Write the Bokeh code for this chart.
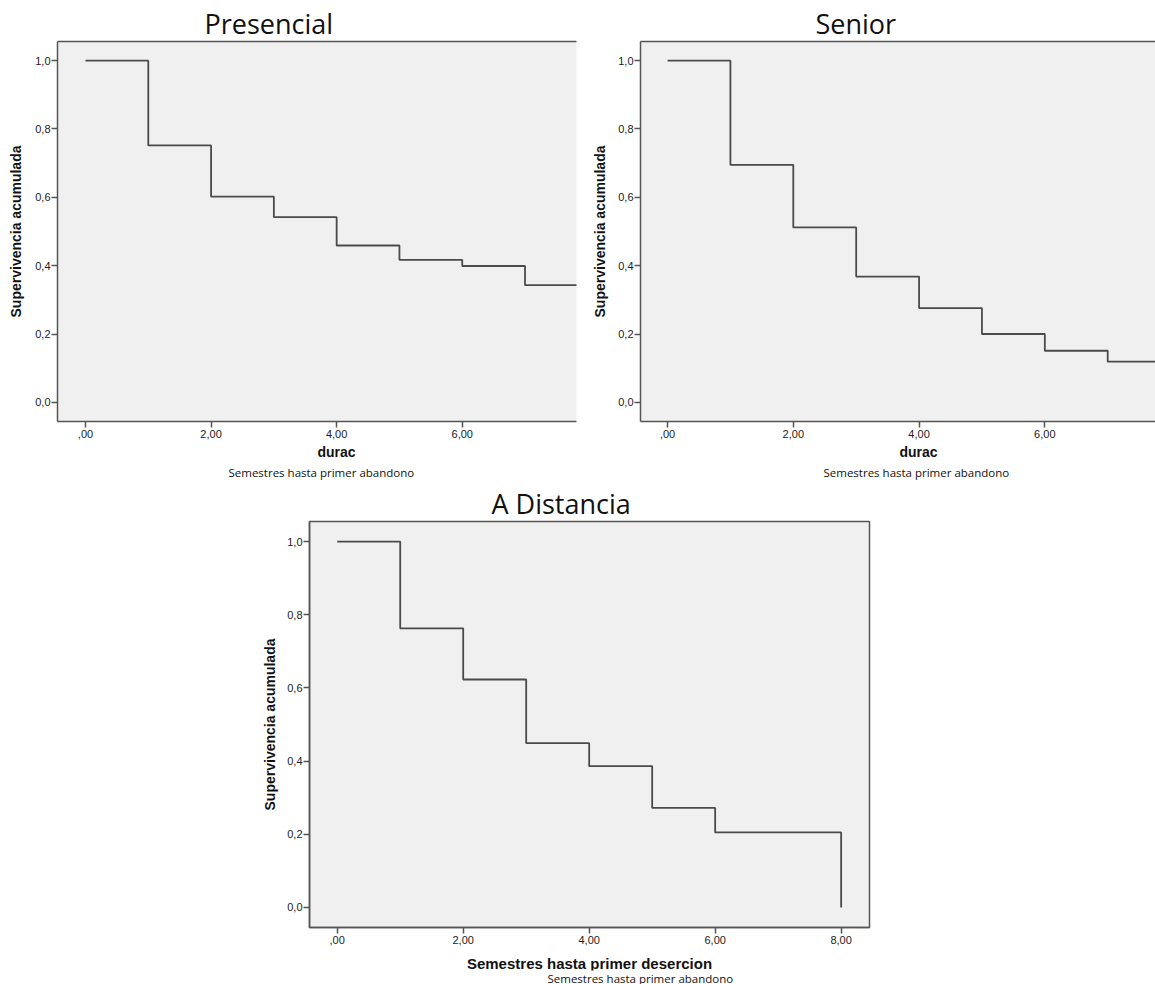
from bokeh.plotting import figure
from bokeh.models import (LinearAxis, FixedTicker, Title, Range1d, Spacer)
from bokeh.layouts import column, row
from bokeh.embed import file_html
from bokeh.resources import INLINE

# ---- data ----
durations = [0, 1, 2, 3, 4, 5, 6, 7, 8]
presencial_surv = [1.0, 0.752, 0.602, 0.542, 0.459, 0.417, 0.399, 0.343, 0.343]
senior_surv = [1.0, 0.695, 0.512, 0.368, 0.276, 0.200, 0.151, 0.119, 0.119]
distancia_surv = [1.0, 0.763, 0.623, 0.449, 0.386, 0.272, 0.205, 0.205, 0.0]

x_ticks = [0, 2, 4, 6, 8]
x_tick_labels = [",00", "2,00", "4,00", "6,00", "8,00"]
y_ticks = [0.0, 0.2, 0.4, 0.6, 0.8, 1.0]
y_tick_labels = ["0,0", "0,2", "0,4", "0,6", "0,8", "1,0"]

titles = ["Presencial", "Senior", "A Distancia"]
y_label = "Supervivencia acumulada"
x_label_top = "durac"
x_label_bottom = "Semestres hasta primer desercion"
subtitle = "Semestres hasta primer abandono"

LINE = "#4a4a4a"
AX = "#555555"
BG = "#f0f0f0"


def style(p, y_standoff):
    p.background_fill_color = BG
    p.border_fill_color = "white"
    p.xgrid.visible = False
    p.ygrid.visible = False
    p.outline_line_color = None
    for ax in (p.xaxis[0], p.yaxis[0]):
        ax.axis_line_color = AX
        ax.axis_line_width = 1.5
        ax.major_tick_line_color = AX
        ax.major_tick_line_width = 1.5
        ax.major_tick_out = 6
        ax.major_tick_in = 0
        ax.minor_tick_line_color = None
        ax.major_label_text_font = "Liberation Sans"
        ax.major_label_text_font_size = "11px"
        ax.major_label_text_color = "#222222"
        ax.axis_label_text_font = "Liberation Sans"
        ax.axis_label_text_font_style = "bold"
        ax.axis_label_text_color = "#111111"
    p.xaxis[0].ticker = FixedTicker(ticks=x_ticks)
    p.xaxis[0].major_label_overrides = dict(zip(x_ticks, x_tick_labels))
    p.xaxis[0].major_label_standoff = 2
    p.yaxis[0].ticker = FixedTicker(ticks=y_ticks)
    p.yaxis[0].major_label_overrides = dict(zip(y_ticks, y_tick_labels))
    p.yaxis[0].major_label_standoff = 1
    p.yaxis[0].axis_label = y_label
    p.yaxis[0].axis_label_text_font_size = "14px"
    p.yaxis[0].axis_label_standoff = y_standoff


def main_title(p, offset):
    p.title.text_font = "Open Sans"
    p.title.text_font_size = "27px"
    p.title.text_font_style = "normal"
    p.title.text_color = "#111111"
    p.title.align = "left"
    p.title.offset = offset
    p.title.standoff = 0


def top_border(p):
    ax = LinearAxis(ticker=FixedTicker(ticks=[]), axis_line_color=AX,
                    axis_line_width=1.5, major_tick_line_color=None,
                    minor_tick_line_color=None,
                    major_label_text_font_size="0px")
    p.add_layout(ax, "above")


def below_text(p, text, offset, size, font="Open Sans", bold=False,
               standoff=0, bg=None):
    t = Title(text=text, align="left", offset=offset, text_font=font,
              text_font_size=size, text_color="#111111",
              text_font_style="bold" if bold else "normal", standoff=standoff)
    if bg is not None:
        t.background_fill_color = bg
    p.add_layout(t, "below")


# ---- top-left: Presencial ----
p1 = figure(width=578, height=482, frame_width=519, frame_height=380,
            x_range=Range1d(-0.446, 7.82), y_range=Range1d(-0.056, 1.056),
            min_border_left=57, min_border_right=2, min_border_top=41,
            min_border_bottom=61, toolbar_location=None, output_backend="svg",
            title=titles[0])
p1.step(durations, presencial_surv, mode="after", line_color=LINE, line_width=1.8)
style(p1, 8)
main_title(p1, 147)
top_border(p1)
below_text(p1, x_label_top, 260, "14px", font="Liberation Sans", bold=True, standoff=2)
below_text(p1, subtitle, 171, "11.5px", standoff=5)

# ---- top-right: Senior ----
p2 = figure(width=577, height=482, frame_width=515, frame_height=380,
            x_range=Range1d(-0.43, 7.76), y_range=Range1d(-0.056, 1.056),
            min_border_left=62, min_border_right=0, min_border_top=41,
            min_border_bottom=61, toolbar_location=None, output_backend="svg",
            title=titles[1])
p2.step(durations, senior_surv, mode="after", line_color=LINE, line_width=1.8)
style(p2, 7)
main_title(p2, 175)
top_border(p2)
below_text(p2, x_label_top, 259, "14px", font="Liberation Sans", bold=True, standoff=2)
below_text(p2, subtitle, 183, "11.5px", standoff=5)

# ---- bottom: A Distancia ----
p3 = figure(width=650, height=502, frame_width=560, frame_height=406,
            x_range=Range1d(-0.44, 8.45), y_range=Range1d(-0.055, 1.055),
            min_border_left=59, min_border_right=31, min_border_top=37,
            min_border_bottom=57, toolbar_location=None, output_backend="svg",
            title=titles[2])
p3.step(durations, distancia_surv, mode="after", line_color=LINE, line_width=1.8)
style(p3, 6)
main_title(p3, 182)
p3.outline_line_color = AX
p3.outline_line_width = 1.5
p3.xaxis[0].axis_label = x_label_bottom
p3.xaxis[0].axis_label_text_font_size = "15px"
p3.xaxis[0].axis_label_standoff = 8
below_text(p3, subtitle, 238, "11.5px", standoff=-12, bg="white")

layout = column(row(p1, p2), row(Spacer(width=250, height=502), p3))

open("out.html", "w").write(file_html(layout, INLINE))
